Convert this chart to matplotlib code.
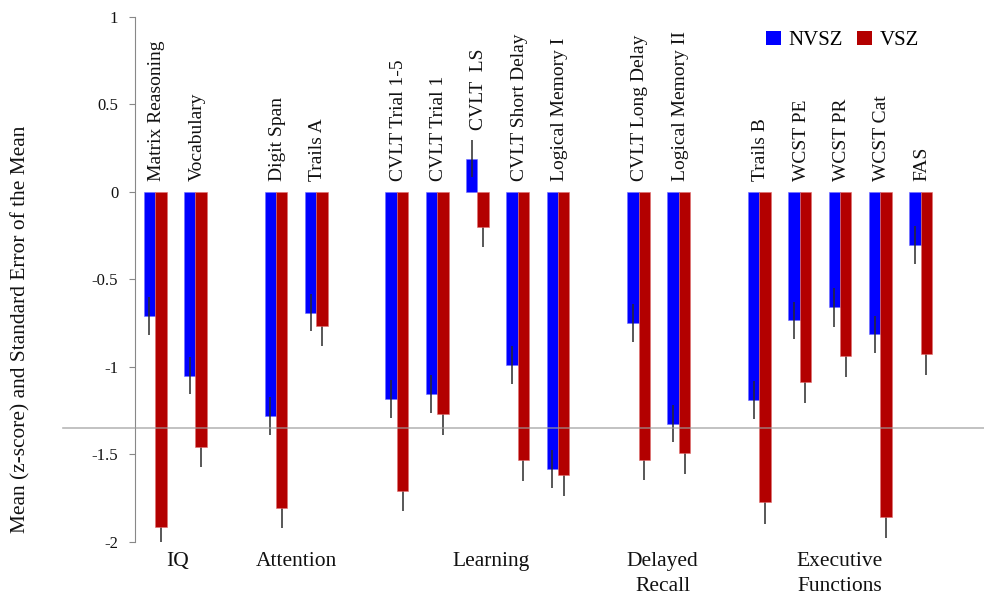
import matplotlib
matplotlib.use("Agg")
import matplotlib.pyplot as plt
import matplotlib.transforms as mtransforms
from matplotlib.patches import Patch
import numpy as np

# --------------------------------------------------
# data
# --------------------------------------------------
groups = ["IQ", "Attention", "Learning", "Delayed\nRecall", "Executive\nFunctions"]
group_sizes = [2, 2, 5, 2, 5]

measures = [
    "Matrix Reasoning", "Vocabulary",
    "Digit Span", "Trails A",
    "CVLT Trial 1-5", "CVLT Trial 1", "CVLT  LS", "CVLT Short Delay", "Logical Memory I",
    "CVLT Long Delay", "Logical Memory II",
    "Trails B", "WCST PE", "WCST PR", "WCST Cat", "FAS",
]

nvsz_mean = [-0.71, -1.05, -1.28, -0.69, -1.185, -1.155, 0.19, -0.99, -1.585,
             -0.75, -1.325, -1.19, -0.735, -0.66, -0.815, -0.305]
nvsz_sem = [0.11, 0.108, 0.108, 0.107, 0.11, 0.11, 0.107, 0.109, 0.109,
            0.109, 0.107, 0.109, 0.108, 0.11, 0.107, 0.108]

vsz_mean = [-1.915, -1.457, -1.81, -0.765, -1.708, -1.272, -0.2, -1.535, -1.621,
            -1.533, -1.495, -1.775, -1.087, -0.941, -1.859, -0.929]
vsz_sem = [0.12, 0.114, 0.114, 0.118, 0.117, 0.118, 0.114, 0.118, 0.118,
           0.116, 0.116, 0.122, 0.122, 0.116, 0.122, 0.12]

cutoff = -1.35

BLUE = "#0000ff"
RED = "#b30000"
SERIF = ["Liberation Serif", "DejaVu Serif"]

plt.rcParams["font.family"] = SERIF
plt.rcParams["axes.unicode_minus"] = False

# slot positions: one empty slot between groups
x = []
group_x = []
pos = 0
for size in group_sizes:
    xs = list(range(pos, pos + size))
    x.extend(xs)
    group_x.append(np.mean(xs))
    pos += size + 1
x = np.array(x, dtype=float)
# small nudges so the group labels sit where the original put them
group_x = np.array(group_x) + np.array([0.05, 0.0, 0.35, 0.1, 0.0])

fig = plt.figure(figsize=(9.84, 5.98), dpi=100)
ax = fig.add_axes([135 / 984, 1 - 541.7 / 598, 846 / 984, 524.7 / 598])

w = 0.285
nv = np.array(nvsz_mean)
vs = np.array(vsz_mean)

ax.bar(x - w / 2, nv, w, color=BLUE, edgecolor="#6f6fff", linewidth=0.4, zorder=2)
ax.bar(x + w / 2, vs, w, color=RED, edgecolor="#e07070", linewidth=0.4, zorder=2)

ax.errorbar(x - w / 2, nv, yerr=nvsz_sem, fmt="none", ecolor="#2a2a2a",
            elinewidth=1.1, capsize=0, zorder=3)
ax.errorbar(x + w / 2, vs, yerr=[vsz_sem, np.zeros(len(vs))], fmt="none",
            ecolor="#2a2a2a", elinewidth=1.1, capsize=0, zorder=1)

ax.axhline(cutoff, xmin=-0.085, xmax=1.01, color="#9a9a9a", alpha=0.7,
           linewidth=1.2, clip_on=False, zorder=4)

# rotated measure names above each pair
for xi, name, m, e in zip(x, measures, nv, nvsz_sem):
    base = max(0.0, m + e)
    ax.annotate(name, (xi, base), xytext=(1, 7.5), textcoords="offset points",
                rotation=90, ha="center", va="bottom", fontsize=14, color="#111111")

# group names under the axes
trans = mtransforms.blended_transform_factory(ax.transData, fig.transFigure)
for gx, g in zip(group_x, groups):
    ax.text(gx, 1 - 552 / 598, g, transform=trans, ha="center", va="top",
            fontsize=15.5, color="#111111", linespacing=1.4)

ax.set_xlim(-0.5, 20.5)
ax.set_ylim(-2, 1)
ax.set_yticks([1, 0.5, 0, -0.5, -1, -1.5, -2])
ax.set_yticklabels(["1", "0.5", "0", "-0.5", "-1", "-1.5", "-2"])
ax.tick_params(axis="y", direction="out", length=4, width=0.8, color="#888888",
               labelsize=12, labelcolor="#111111", pad=8)
ax.set_xticks([])
for side in ["top", "right", "bottom"]:
    ax.spines[side].set_visible(False)
ax.spines["left"].set_color("#888888")
ax.spines["left"].set_linewidth(0.8)

fig.text(21 / 984, 1 - 329 / 598, "Mean (z-score) and Standard Error of the Mean",
         rotation=90, ha="center", va="center", fontsize=15.4, color="#111111")

handles = [Patch(facecolor=BLUE, label="NVSZ"), Patch(facecolor=RED, label="VSZ")]
ax.legend(handles=handles, loc="upper left", bbox_to_anchor=(766 / 984, 1 - 31 / 598),
          bbox_transform=fig.transFigure, ncol=2, frameon=False, fontsize=15,
          handlelength=0.72, handleheight=0.65, handletextpad=0.35,
          columnspacing=0.7, borderpad=0, borderaxespad=0)

fig.savefig("out.png", dpi=100)
